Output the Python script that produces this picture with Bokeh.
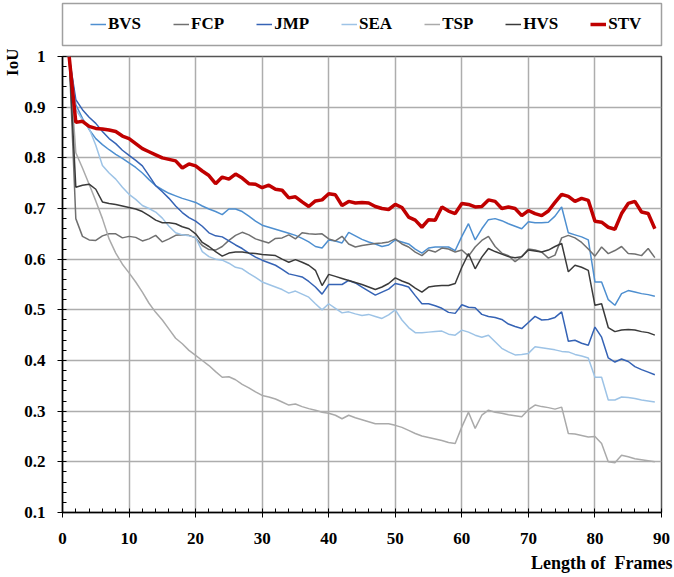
from bokeh.plotting import figure
from bokeh.layouts import column
from bokeh.models import (Range1d, FixedTicker, CustomJSTickFormatter, Legend,
                          LegendItem, Title)
from bokeh.embed import file_html
from bokeh.resources import INLINE

frames = list(range(1, 90))

BVS = [1.0, 0.905, 0.878, 0.856, 0.838, 0.826, 0.816, 0.807, 0.799, 0.790,
       0.781, 0.770, 0.757, 0.745, 0.737, 0.730, 0.725, 0.720, 0.716, 0.712,
       0.705, 0.699, 0.694, 0.688, 0.699, 0.699, 0.694, 0.685, 0.675, 0.667,
       0.663, 0.659, 0.655, 0.651, 0.647, 0.641, 0.634, 0.625, 0.622, 0.638,
       0.636, 0.632, 0.653, 0.646, 0.639, 0.634, 0.630, 0.625, 0.628, 0.638,
       0.634, 0.630, 0.620, 0.612, 0.622, 0.624, 0.624, 0.624, 0.617, 0.645,
       0.670, 0.638, 0.660, 0.678, 0.680, 0.676, 0.670, 0.665, 0.660, 0.674,
       0.672, 0.672, 0.673, 0.685, 0.703, 0.652, 0.648, 0.644, 0.638, 0.555,
       0.555, 0.520, 0.509, 0.532, 0.538, 0.535, 0.532, 0.530, 0.527]

FCP = [1.0, 0.680, 0.645, 0.638, 0.637, 0.646, 0.650, 0.650, 0.642, 0.645,
       0.643, 0.636, 0.640, 0.647, 0.634, 0.640, 0.647, 0.648, 0.647, 0.642,
       0.627, 0.619, 0.618, 0.625, 0.637, 0.647, 0.653, 0.648, 0.640, 0.636,
       0.632, 0.641, 0.642, 0.648, 0.640, 0.652, 0.650, 0.649, 0.650, 0.640,
       0.636, 0.645, 0.630, 0.624, 0.627, 0.629, 0.631, 0.632, 0.634, 0.640,
       0.630, 0.624, 0.614, 0.607, 0.618, 0.614, 0.622, 0.620, 0.614, 0.618,
       0.606, 0.624, 0.637, 0.645, 0.625, 0.612, 0.607, 0.595, 0.605, 0.620,
       0.618, 0.614, 0.602, 0.608, 0.642, 0.647, 0.642, 0.633, 0.620, 0.606,
       0.624, 0.611, 0.617, 0.625, 0.611, 0.610, 0.607, 0.621, 0.603]

JMP = [1.0, 0.915, 0.895, 0.880, 0.868, 0.852, 0.838, 0.828, 0.815, 0.805,
       0.795, 0.784, 0.765, 0.745, 0.733, 0.720, 0.705, 0.692, 0.682, 0.675,
       0.665, 0.652, 0.646, 0.644, 0.636, 0.628, 0.621, 0.612, 0.604, 0.598,
       0.593, 0.588, 0.580, 0.571, 0.568, 0.565, 0.556, 0.545, 0.531, 0.550,
       0.550, 0.550, 0.558, 0.553, 0.545, 0.537, 0.529, 0.535, 0.541, 0.552,
       0.549, 0.545, 0.528, 0.512, 0.512, 0.508, 0.503, 0.495, 0.493, 0.510,
       0.505, 0.504, 0.491, 0.487, 0.485, 0.481, 0.472, 0.467, 0.463, 0.475,
       0.487, 0.480, 0.481, 0.485, 0.496, 0.438, 0.440, 0.434, 0.430, 0.466,
       0.446, 0.405, 0.397, 0.403, 0.398, 0.388, 0.382, 0.377, 0.372]

SEA = [1.0, 0.895, 0.875, 0.858, 0.825, 0.785, 0.770, 0.758, 0.742, 0.728,
       0.718, 0.706, 0.700, 0.693, 0.681, 0.665, 0.652, 0.648, 0.646, 0.643,
       0.615, 0.605, 0.600, 0.598, 0.592, 0.584, 0.581, 0.572, 0.564, 0.555,
       0.550, 0.545, 0.540, 0.533, 0.537, 0.531, 0.525, 0.512, 0.500, 0.512,
       0.503, 0.494, 0.496, 0.492, 0.489, 0.491, 0.487, 0.483, 0.490, 0.500,
       0.480, 0.465, 0.455, 0.455, 0.456, 0.457, 0.458, 0.452, 0.450, 0.460,
       0.456, 0.450, 0.446, 0.450, 0.437, 0.424, 0.417, 0.411, 0.412, 0.414,
       0.427, 0.425, 0.423, 0.421, 0.418, 0.417, 0.412, 0.409, 0.405, 0.367,
       0.367, 0.322, 0.322, 0.328, 0.327, 0.325, 0.322, 0.320, 0.318]

TSP = [1.0, 0.810, 0.780, 0.748, 0.715, 0.680, 0.640, 0.612, 0.590, 0.573,
       0.555, 0.535, 0.513, 0.495, 0.480, 0.462, 0.444, 0.433, 0.420, 0.410,
       0.400, 0.390, 0.378, 0.367, 0.368, 0.362, 0.353, 0.346, 0.338, 0.331,
       0.328, 0.324, 0.318, 0.312, 0.314, 0.309, 0.305, 0.302, 0.298, 0.296,
       0.292, 0.285, 0.292, 0.287, 0.283, 0.279, 0.275, 0.275, 0.275, 0.272,
       0.268, 0.262, 0.256, 0.251, 0.248, 0.245, 0.242, 0.238, 0.236, 0.269,
       0.298, 0.266, 0.292, 0.302, 0.298, 0.296, 0.293, 0.291, 0.289, 0.303,
       0.312, 0.309, 0.307, 0.304, 0.308, 0.256, 0.255, 0.252, 0.249, 0.250,
       0.236, 0.200, 0.198, 0.213, 0.210, 0.206, 0.204, 0.202, 0.200]

HVS = [1.0, 0.742, 0.746, 0.748, 0.738, 0.713, 0.710, 0.708, 0.705, 0.702,
       0.699, 0.694, 0.686, 0.677, 0.672, 0.672, 0.670, 0.664, 0.660, 0.650,
       0.633, 0.625, 0.615, 0.606, 0.612, 0.614, 0.614, 0.612, 0.611, 0.609,
       0.608, 0.607, 0.600, 0.594, 0.599, 0.594, 0.588, 0.578, 0.548, 0.570,
       0.566, 0.562, 0.558, 0.554, 0.550, 0.545, 0.540, 0.545, 0.552, 0.563,
       0.557, 0.552, 0.543, 0.535, 0.545, 0.547, 0.548, 0.548, 0.552, 0.584,
       0.611, 0.581, 0.604, 0.621, 0.615, 0.610, 0.605, 0.603, 0.605, 0.618,
       0.616, 0.614, 0.618, 0.625, 0.631, 0.575, 0.588, 0.584, 0.578, 0.509,
       0.512, 0.465, 0.457, 0.460, 0.461, 0.460, 0.457, 0.455, 0.450]

STV = [1.0, 0.870, 0.872, 0.862, 0.858, 0.857, 0.855, 0.852, 0.843, 0.838,
       0.828, 0.818, 0.812, 0.806, 0.800, 0.797, 0.794, 0.780, 0.788, 0.784,
       0.774, 0.765, 0.749, 0.762, 0.758, 0.768, 0.760, 0.749, 0.748, 0.741,
       0.746, 0.738, 0.736, 0.721, 0.723, 0.713, 0.704, 0.715, 0.717, 0.729,
       0.727, 0.706, 0.714, 0.711, 0.712, 0.711, 0.704, 0.700, 0.698, 0.708,
       0.702, 0.683, 0.677, 0.663, 0.678, 0.677, 0.703, 0.695, 0.690, 0.710,
       0.708, 0.703, 0.704, 0.717, 0.714, 0.700, 0.703, 0.700, 0.686, 0.696,
       0.690, 0.686, 0.695, 0.712, 0.728, 0.724, 0.714, 0.720, 0.716, 0.675,
       0.673, 0.663, 0.659, 0.690, 0.710, 0.714, 0.693, 0.690, 0.660]

x_ticks = list(range(0, 91, 10))
y_ticks = [0.1, 0.2, 0.3, 0.4, 0.5, 0.6, 0.7, 0.8, 0.9, 1.0]
series_names = ["BVS", "FCP", "JMP", "SEA", "TSP", "HVS", "STV"]
series_data = [BVS, FCP, JMP, SEA, TSP, HVS, STV]
colors = ["#4E8FD0", "#707070", "#3563B5", "#9DC3E6", "#AAAAAA", "#3A3A3A", "#C00000"]
widths = [1.5, 1.5, 1.5, 1.5, 1.5, 1.5, 3.5]
y_title = "IoU"
x_title = "Length of\u00a0 Frames"

FONT = "Liberation Serif"

# ---- legend strip (top): its frame is the legend box ----
pl = figure(width=674, height=48, output_backend="svg", toolbar_location=None,
            title_location=None, x_axis_location=None, y_axis_location=None,
            x_range=Range1d(1000, 1001), y_range=Range1d(1000, 1001),
            min_border_left=62, min_border_right=7, min_border_top=3, min_border_bottom=3)
pl.grid.visible = False
pl.outline_line_color = "#A0A0A0"
pl.outline_line_width = 1.5
leg_renderers = [pl.line(frames, data, line_color=c, line_width=w)
                 for data, c, w in zip(series_data, colors, widths)]
legend = Legend(items=[LegendItem(label=n, renderers=[r]) for n, r in zip(series_names, leg_renderers)],
                orientation="horizontal", location=(28, 11),
                label_text_font=FONT, label_text_font_style="bold",
                label_text_font_size="17px", label_text_color="black",
                glyph_width=16, glyph_height=20, label_height=20, label_standoff=2,
                spacing=32, padding=0, margin=0,
                border_line_color=None, background_fill_alpha=0.0)
pl.add_layout(legend, "center")

# ---- main chart ----
p = figure(width=674, height=529, output_backend="svg", toolbar_location=None,
           title_location=None,
           x_range=Range1d(0, 90), y_range=Range1d(0.1, 1.0),
           min_border_left=62, min_border_right=13, min_border_top=8,
           min_border_bottom=65)

p.background_fill_color = "white"
p.border_fill_color = "white"
p.outline_line_color = "#555555"
p.outline_line_width = 1.5

p.xaxis.ticker = FixedTicker(ticks=x_ticks, minor_ticks=list(range(0, 91, 2)))
p.yaxis.ticker = FixedTicker(ticks=y_ticks,
                             minor_ticks=[round(0.1 + 0.02 * k, 2) for k in range(46)])
p.yaxis.formatter = CustomJSTickFormatter(code="return tick.toFixed(1).replace(/\\.0$/, '');")

for ax in (p.xaxis[0], p.yaxis[0]):
    ax.axis_line_color = "black"
    ax.axis_line_width = 1.5
    ax.major_tick_line_color = "black"
    ax.minor_tick_line_color = "black"
    ax.major_tick_in = 0
    ax.major_tick_out = 5
    ax.minor_tick_in = 4
    ax.minor_tick_out = 0
    ax.major_label_text_font = FONT
    ax.major_label_text_font_style = "bold"
    ax.major_label_text_font_size = "17px"
    ax.major_label_text_color = "black"
p.yaxis.major_label_standoff = 12
p.xaxis.major_label_standoff = 15

p.grid.grid_line_color = "#ADADAD"
p.grid.grid_line_width = 1.5

for name, data, c, w in zip(series_names, series_data, colors, widths):
    p.line(frames, data, line_color=c, line_width=w)

p.add_layout(Title(text=y_title, align="right", text_font=FONT, text_font_style="bold",
                   text_font_size="17px", text_color="black", standoff=0, offset=-8), "left")
p.add_layout(Title(text=x_title, align="right", text_font=FONT, text_font_style="bold",
                   text_font_size="18px", text_color="black", standoff=9, offset=-11), "below")

layout = column(pl, p, spacing=0)
open("out.html", "w").write(file_html(layout, INLINE))
